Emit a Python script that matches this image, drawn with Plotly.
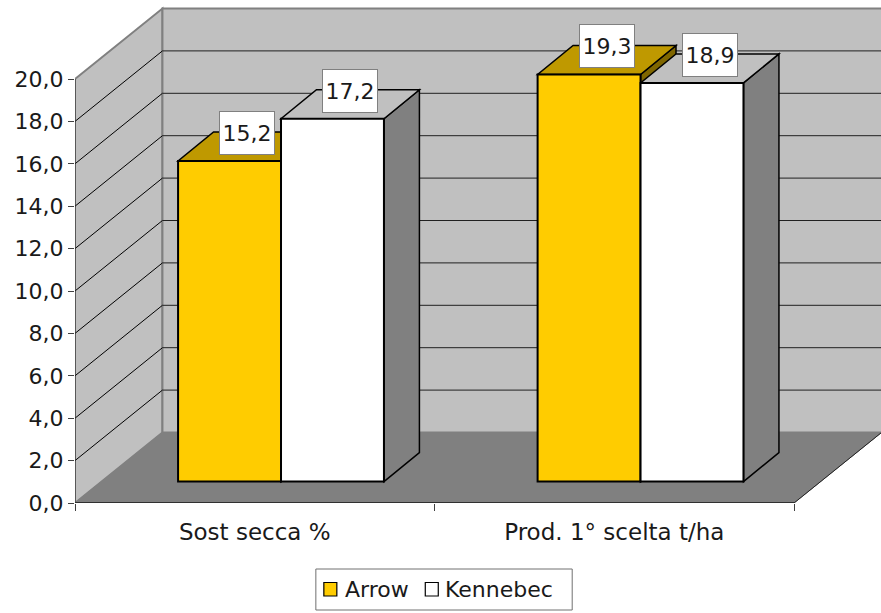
import plotly.graph_objects as go

categories = ["Sost secca %", "Prod. 1° scelta t/ha"]
arrow = [15.2, 19.3]
kennebec = [17.2, 18.9]
y_ticks = [0, 2, 4, 6, 8, 10, 12, 14, 16, 18, 20]

FONT = "DejaVu Sans"
TEXT = "#1A1A1A"
WALL, FLOOR = "#C0C0C0", "#808080"
PX_X, PX_Y = 359.75, 21.2          # pixels per axis unit
WALL_DX, WALL_DY = 87.5 / PX_X, 70.5 / PX_Y
BAR_DX, BAR_DY = 35.5 / PX_X, 29 / PX_Y
BAR_W = 103 / PX_X
BAR_BASE = 1.01
BAR_SCALE = 0.995
GROUP_SHIFT = 0.073
ML, MT, MB = 74.5, 4, 110
PLOT_W, PLOT_H = 881 - ML, 613 - MT - MB
XMAX = PLOT_W / PX_X
YMAX = PLOT_H / PX_Y
pos = [0.5, 1.5]


def poly(pts, fill, line="black", width=1.5):
    path = "M" + "L".join(f"{x},{y}" for x, y in pts) + "Z"
    return dict(type="path", path=path, xref="x", yref="y", layer="below",
                fillcolor=fill, line=dict(color=line, width=width))


def seg(x0, y0, x1, y1, color="black", width=1):
    return dict(type="line", x0=x0, y0=y0, x1=x1, y1=y1, xref="x", yref="y",
                layer="below", line=dict(color=color, width=width))


def paper_x(px):
    return (px - ML) / PLOT_W


def paper_y(py):
    return (613 - MB - py) / PLOT_H


def paper_rect(x0, y0, x1, y1, fill, line, width):
    return dict(type="rect", xref="paper", yref="paper", layer="above",
                x0=paper_x(x0), x1=paper_x(x1), y0=paper_y(y0), y1=paper_y(y1),
                fillcolor=fill, line=dict(color=line, width=width))


shapes = [
    poly([(0, 0), (0, 20), (WALL_DX, 20 + WALL_DY), (WALL_DX, WALL_DY)], WALL, FLOOR, 2),
    poly([(WALL_DX, WALL_DY), (WALL_DX, 20 + WALL_DY), (XMAX + 1, 20 + WALL_DY), (XMAX + 1, WALL_DY)], WALL, FLOOR, 2),
    poly([(0, 0), (WALL_DX, WALL_DY), (WALL_DX + 2, WALL_DY), (2, 0)], FLOOR, FLOOR, 1),
]
for k in y_ticks[1:-1]:
    shapes.append(seg(0, k, WALL_DX, k + WALL_DY))
    shapes.append(seg(WALL_DX, k + WALL_DY, XMAX, k + WALL_DY, "#202020"))
shapes.append(seg(2, 0, 2 + WALL_DX, WALL_DY, "#202020"))
shapes.append(seg(0, 0, 2, 0, "#303030", 2))
shapes.append(seg(0, 0, 0, 20, "#303030", 1))

annotations = []
series = [
    ("Arrow", arrow, "#FFCC00", "#BF9900", "#7F6600", -BAR_W),
    ("Kennebec", kennebec, "#FFFFFF", "#C0C0C0", "#808080", 0),
]
traces = []
for name, vals, front, top, side, off in series:
    tops = [BAR_BASE + v * BAR_SCALE for v in vals]
    traces.append(go.Bar(
        name=name, x=pos, y=[v * BAR_SCALE for v in vals], base=BAR_BASE,
        width=BAR_W, offset=GROUP_SHIFT + off, showlegend=False,
        marker=dict(color=front, line=dict(color="black", width=2)),
    ))
    for p, t, v in zip(pos, tops, vals):
        l = p + GROUP_SHIFT + off
        r = l + BAR_W
        shapes.append(poly([(r, BAR_BASE), (r, t), (r + BAR_DX, t + BAR_DY), (r + BAR_DX, BAR_BASE + BAR_DY)], side))
        shapes.append(poly([(l, t), (r, t), (r + BAR_DX, t + BAR_DY), (l + BAR_DX, t + BAR_DY)], top))
        annotations.append(dict(
            x=(l + r + BAR_DX) / 2, y=t + BAR_DY / 2, xref="x", yref="y",
            text=f"{v:.1f}".replace(".", ","), showarrow=False, yshift=13.5,
            width=52, height=40, bgcolor="white", bordercolor="#808080", borderwidth=1,
            font=dict(family=FONT, size=22, color=TEXT),
        ))

# legend box, drawn to the reference's tight spacing
shapes.append(paper_rect(315.5, 569, 572, 610, "white", "#707070", 1))
for (name, vals, front, *_), sx, tx in zip(series, [323.5, 425], [345, 445]):
    shapes.append(paper_rect(sx, 582.5, sx + 13, 596, front, "black", 1.2))
    annotations.append(dict(
        x=paper_x(tx), y=paper_y(589.5), xref="paper", yref="paper", xanchor="left", yanchor="middle",
        text=name, showarrow=False, xshift=-2, font=dict(family=FONT, size=22, color=TEXT),
    ))

fig = go.Figure(traces)
fig.update_layout(
    width=881, height=613,
    margin=dict(l=ML, r=0, t=MT, b=MB, autoexpand=False),
    paper_bgcolor="white", plot_bgcolor="white",
    barmode="overlay", separators=",.", showlegend=False,
    shapes=shapes, annotations=annotations,
    font=dict(family=FONT, size=22, color=TEXT),
    xaxis=dict(range=[0, XMAX], tickvals=pos, ticktext=categories, showgrid=False,
               zeroline=False, showline=False, ticks="outside", ticklen=8,
               tickcolor="rgba(0,0,0,0)", tickfont=dict(family=FONT, size=23, color=TEXT),
               minor=dict(tickvals=[0, 1, 2], ticks="outside", ticklen=7, tickcolor="#404040", tickwidth=1)),
    yaxis=dict(range=[0, YMAX], tickvals=y_ticks, tickformat=".1f", showgrid=False,
               zeroline=False, showline=False, ticks="outside", ticklen=6,
               tickcolor="#404040", tickwidth=1, tickfont=dict(family=FONT, size=22, color=TEXT)),
)
fig.write_html("out.html", config=dict(displayModeBar=False),
               post_script="document.body.style.margin='0';")
